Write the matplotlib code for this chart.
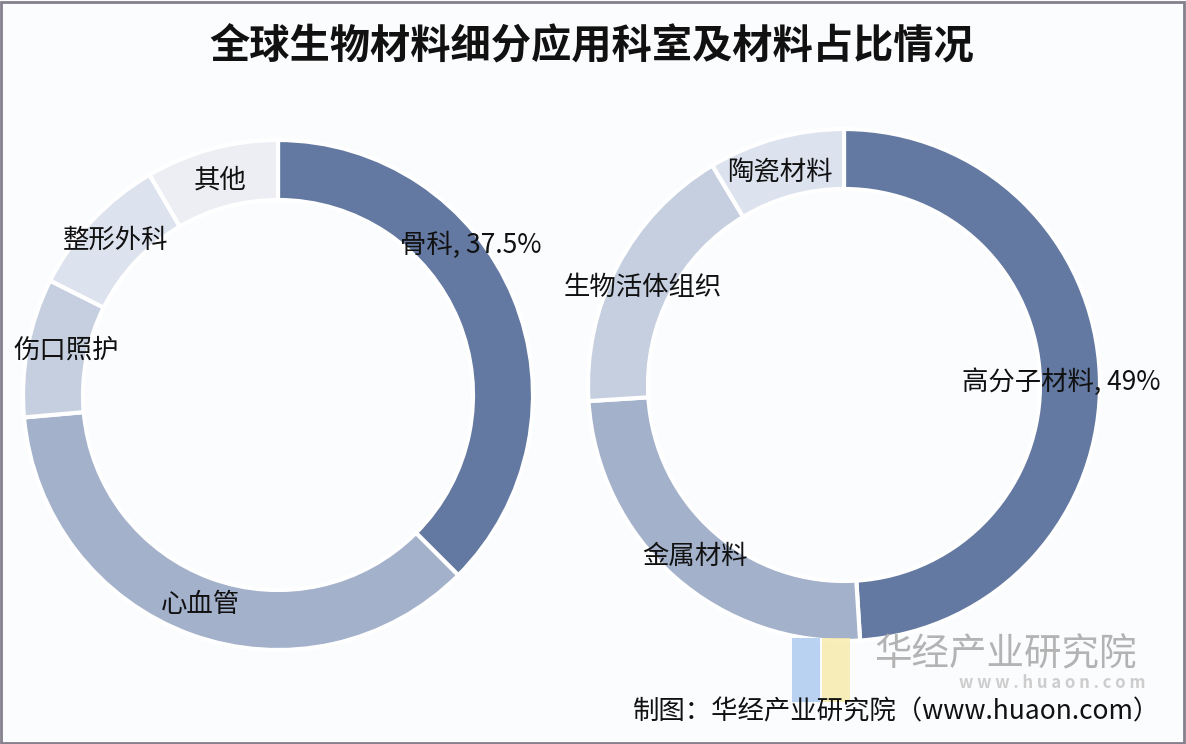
import matplotlib
matplotlib.use('Agg')
import matplotlib.pyplot as plt
from matplotlib.patches import Rectangle

plt.rcParams['font.family'] = ['Noto Sans CJK SC', 'DejaVu Sans']

# Left donut: application departments
dept_labels = ['骨科', '心血管', '伤口照护', '整形外科', '其他']
dept_values = [37.5, 36.1, 8.8, 9.2, 8.4]

# Right donut: material types
mat_labels = ['高分子材料', '金属材料', '生物活体组织', '陶瓷材料']
mat_values = [49.0, 25.0, 17.4, 8.6]

title = '全球生物材料细分应用科室及材料占比情况'
source = '制图：华经产业研究院（www.huaon.com）'

dark = '#6479a1'
colors_left = [dark, '#a3b1cb', '#c5cfe0', '#dde3ee', '#eceef3']
colors_right = [dark, '#a3b1cb', '#c5cfe0', '#dde3ee']

W, H = 1186, 744
fig = plt.figure(figsize=(W / 100, H / 100), dpi=100)
fig.patch.set_facecolor('#fbfcfe')
ax = fig.add_axes([0, 0, 1, 1])


def py(y):
    # pixel row (from top) -> data y
    return H - y


wedge_style = dict(width=60, edgecolor='white', linewidth=3)
ax.pie(dept_values, colors=colors_left, startangle=90, counterclock=False,
       center=(278, py(395)), radius=255, wedgeprops=wedge_style, frame=True)
ax.pie(mat_values, colors=colors_right, startangle=90, counterclock=False,
       center=(844, py(385)), radius=256, wedgeprops=wedge_style, frame=True)
ax.set_xlim(0, W)
ax.set_ylim(0, H)
ax.set_aspect('equal')
ax.axis('off')

lab_fs = 19
ax.text(400, py(245), f'{dept_labels[0]}, {dept_values[0]}%', fontsize=lab_fs,
        ha='left', va='center', color='#111111')
ax.text(200, py(605), dept_labels[1], fontsize=lab_fs, ha='center', va='center', color='#111111')
ax.text(66, py(350), dept_labels[2], fontsize=lab_fs, ha='center', va='center', color='#111111')
ax.text(116, py(240), dept_labels[3], fontsize=lab_fs, ha='center', va='center', color='#111111')
ax.text(220, py(180), dept_labels[4], fontsize=lab_fs, ha='center', va='center', color='#111111')

ax.text(962, py(382), f'{mat_labels[0]}, {mat_values[0]:g}%', fontsize=lab_fs,
        ha='left', va='center', color='#111111')
ax.text(695, py(556), mat_labels[1], fontsize=lab_fs, ha='center', va='center', color='#111111')
ax.text(643, py(287), mat_labels[2], fontsize=lab_fs, ha='center', va='center', color='#111111')
ax.text(780, py(172), mat_labels[3], fontsize=lab_fs, ha='center', va='center', color='#111111')

# Title
ax.text(592, py(47), title, fontsize=29, fontweight='bold', ha='center', va='center',
        color='#111111')

# Watermark (logo + text)
ax.add_patch(Rectangle((792, py(702)), 28, 64, color='#a9c8f0', alpha=0.8, lw=0))
ax.add_patch(Rectangle((822, py(702)), 28, 64, color='#f7eaa8', alpha=0.8, lw=0))
ax.text(1005, py(655), '华经产业研究院', fontsize=27, ha='center', va='center',
        color='#ababab', alpha=0.9)
ax.text(1052, py(683), 'w w w . h u a o n . c o m', fontsize=12, ha='center',
        va='center', color='#c8c8c8', fontweight='bold', alpha=0.9)

# Source note
ax.text(1160, py(712), source, fontsize=19, ha='right', va='center', color='#111111')

# Outer frame
ax.add_patch(Rectangle((1, 1), W - 3, H - 3, fill=False, edgecolor='#85808c', lw=2))

fig.savefig('out.png', dpi=100, facecolor=fig.get_facecolor())
plt.close(fig)
